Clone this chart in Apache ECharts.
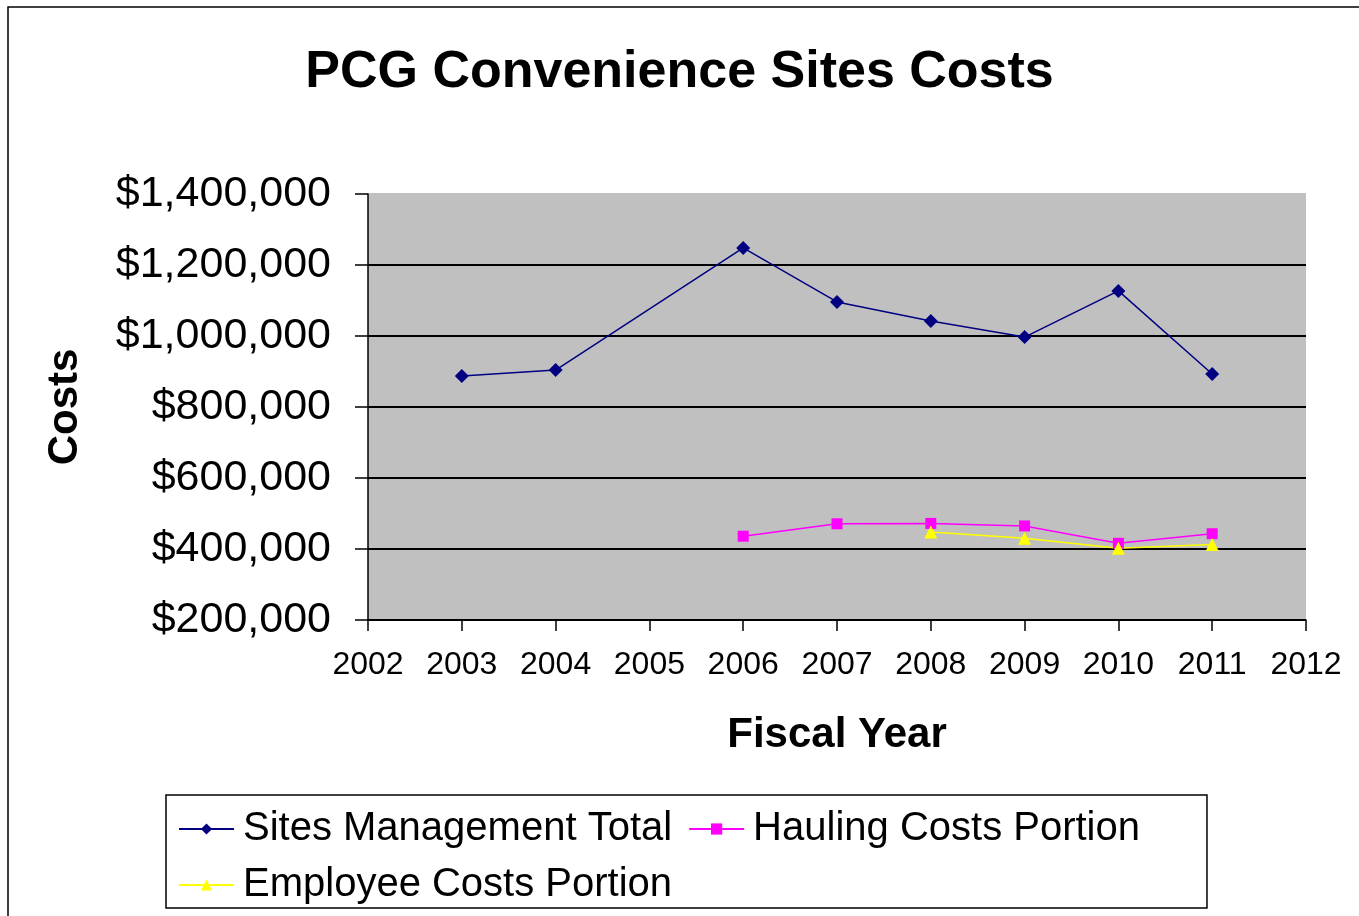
<!DOCTYPE html>
<html>
<head>
<meta charset="utf-8">
<script src="https://cdn.jsdelivr.net/npm/echarts@6/dist/echarts.min.js"></script>
<style>
  html, body { margin: 0; padding: 0; background: #fff; }
  #chart { width: 1359px; height: 916px; }
</style>
</head>
<body>
<div id="chart"></div>
<script>
// fiscal years and cost series
const yearsTotal = [2003, 2004, 2006, 2007, 2008, 2009, 2010, 2011];
const sitesTotal = [887000, 904000, 1248000, 1096000, 1042000, 997000, 1127000, 893000];

const yearsHauling = [2006, 2007, 2008, 2009, 2010, 2011];
const haulingCosts = [436000, 471000, 472000, 465000, 416000, 443000];

const yearsEmployee = [2008, 2009, 2010, 2011];
const employeeCosts = [448000, 430000, 402000, 413000];

const pairs = (xs, ys) => xs.map((x, i) => [x, ys[i]]);
const FONT = 'Liberation Sans, Arial, sans-serif';

const chart = echarts.init(document.getElementById('chart'));
chart.setOption({
    animation: false,
    backgroundColor: '#fff',
    textStyle: { fontFamily: FONT },
    graphic: [{
        type: 'rect',
        shape: { x: 8, y: 7, width: 1400, height: 1000 },
        style: { fill: 'none', stroke: '#000', lineWidth: 1.5 },
        silent: true
    }],
    title: {
        text: 'PCG Convenience Sites Costs',
        left: 'center',
        top: 42,
        textStyle: { fontFamily: FONT, fontSize: 52, fontWeight: 'bold', color: '#000' }
    },
    grid: {
        left: 368, right: 53, top: 194, bottom: 296,
        show: true,
        backgroundColor: '#c0c0c0',
        borderWidth: 0
    },
    xAxis: {
        type: 'value',
        min: 2002, max: 2012, interval: 1,
        name: 'Fiscal Year',
        nameLocation: 'middle',
        nameGap: 94,
        nameTextStyle: { fontFamily: FONT, fontSize: 42, fontWeight: 'bold', color: '#000' },
        axisLine: { lineStyle: { color: '#000', width: 1.5 } },
        axisTick: { lineStyle: { color: '#000', width: 1.5 }, length: 11 },
        axisLabel: { fontFamily: FONT, fontSize: 32, color: '#000', margin: 29, formatter: v => String(v) },
        splitLine: { show: false }
    },
    yAxis: {
        type: 'value',
        min: 200000, max: 1400000, interval: 200000,
        name: 'Costs',
        nameLocation: 'middle',
        nameRotate: 90,
        nameGap: 282,
        nameTextStyle: { fontFamily: FONT, fontSize: 42, fontWeight: 'bold', color: '#000' },
        axisLine: { show: true, lineStyle: { color: '#000', width: 1.5 } },
        axisTick: { show: true, lineStyle: { color: '#000', width: 1.5 }, length: 13 },
        axisLabel: {
            fontFamily: FONT, fontSize: 43, color: '#000', margin: 37,
            formatter: v => '$' + v.toLocaleString('en-US')
        },
        splitLine: {
            lineStyle: {
                color: ['#000', '#000', '#000', '#000', '#000', '#000', '#c0c0c0'],
                width: 2
            }
        }
    },
    legend: {
        left: 166, top: 795,
        width: 1090,
        padding: [14, 67, 3, 12],
        borderColor: '#000',
        borderWidth: 1.5,
        itemWidth: 55,
        itemHeight: 14,
        itemGap: 16,
        textStyle: { fontFamily: FONT, fontSize: 40, color: '#000', padding: [0, 0, 0, 4] },
        data: ['Sites Management Total', 'Hauling Costs Portion', 'Employee Costs Portion']
    },
    series: [
        {
            name: 'Sites Management Total',
            type: 'line',
            data: pairs(yearsTotal, sitesTotal),
            symbol: 'diamond', symbolSize: 14,
            itemStyle: { color: '#000080' },
            lineStyle: { color: '#000080', width: 1.5 }
        },
        {
            name: 'Hauling Costs Portion',
            type: 'line',
            data: pairs(yearsHauling, haulingCosts),
            symbol: 'rect', symbolSize: 11,
            itemStyle: { color: '#ff00ff' },
            lineStyle: { color: '#ff00ff', width: 1.5 }
        },
        {
            name: 'Employee Costs Portion',
            type: 'line',
            data: pairs(yearsEmployee, employeeCosts),
            symbol: 'triangle', symbolSize: 13,
            itemStyle: { color: '#ffff00' },
            lineStyle: { color: '#ffff00', width: 1.5 }
        }
    ]
});
</script>
</body>
</html>
